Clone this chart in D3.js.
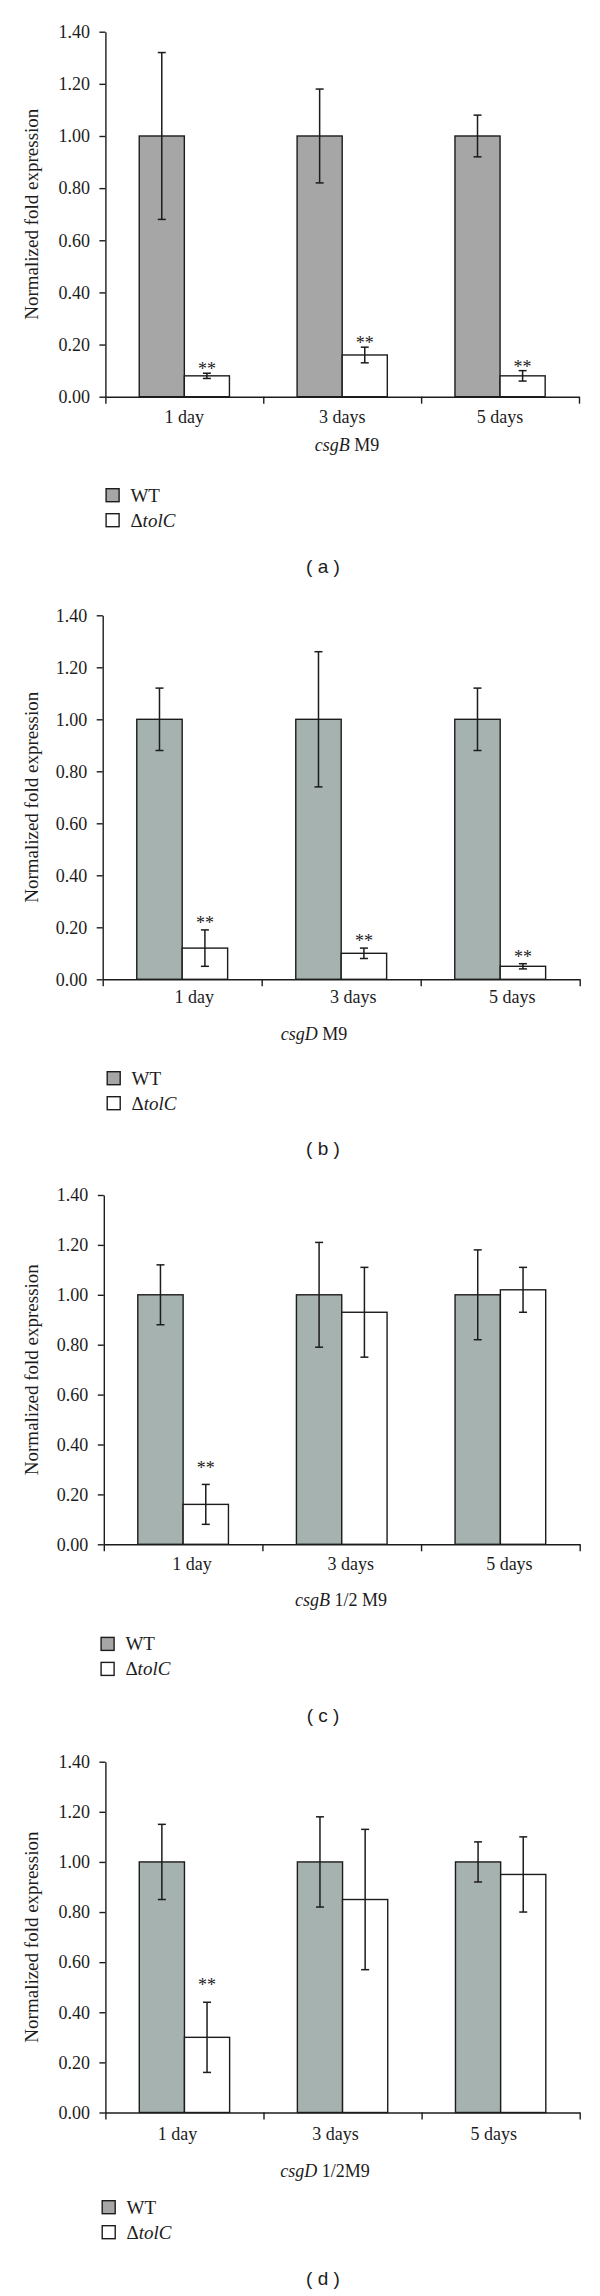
<!DOCTYPE html>
<html>
<head>
<meta charset="utf-8">
<script src="https://cdn.jsdelivr.net/npm/d3@7"></script>
<style>
  html, body { margin: 0; padding: 0; background: #ffffff; }
  svg { display: block; }
</style>
</head>
<body>
<svg id="chart" width="600" height="2296"></svg>
<script>
// ---------------- DATA ----------------
const categories = ["1 day", "3 days", "5 days"];
const seriesNames = ["WT", "\u0394tolC"];
const yTickValues = [0, 0.2, 0.4, 0.6, 0.8, 1.0, 1.2, 1.4];

// Panel (a) csgB M9
const wtA = [1.00, 1.00, 1.00];
const wtErrA = [[0.68, 1.32], [0.82, 1.18], [0.92, 1.08]];
const tolA = [0.08, 0.16, 0.08];
const tolErrA = [[0.07, 0.09], [0.13, 0.19], [0.06, 0.10]];
const sigA = [true, true, true];

// Panel (b) csgD M9
const wtB = [1.00, 1.00, 1.00];
const wtErrB = [[0.88, 1.12], [0.74, 1.26], [0.88, 1.12]];
const tolB = [0.12, 0.10, 0.05];
const tolErrB = [[0.05, 0.19], [0.08, 0.12], [0.04, 0.06]];
const sigB = [true, true, true];

// Panel (c) csgB 1/2 M9
const wtC = [1.00, 1.00, 1.00];
const wtErrC = [[0.88, 1.12], [0.79, 1.21], [0.82, 1.18]];
const tolC = [0.16, 0.93, 1.02];
const tolErrC = [[0.08, 0.24], [0.75, 1.11], [0.93, 1.11]];
const sigC = [true, false, false];

// Panel (d) csgD 1/2M9
const wtD = [1.00, 1.00, 1.00];
const wtErrD = [[0.85, 1.15], [0.82, 1.18], [0.92, 1.08]];
const tolD = [0.30, 0.85, 0.95];
const tolErrD = [[0.16, 0.44], [0.57, 1.13], [0.80, 1.10]];
const sigD = [true, false, false];

const titleGene = ["csgB", "csgD", "csgB", "csgD"];
const titleMedium = [" M9", " M9", " 1/2 M9", " 1/2M9"];
const captions = ["( a )", "( b )", "( c )", "( d )"];
const yTitle = "Normalized fold expression";

// ---------------- STYLE / LAYOUT ----------------
const INK = "#1c1c1c";
const SERIF = "'Liberation Serif', 'Times New Roman', serif";
const SANS = "'Liberation Sans', Arial, sans-serif";
const legendGray = "#a6a6a6";

const panels = [
  { wt: wtA, wtErr: wtErrA, tol: tolA, tolErr: tolErrA, sig: sigA, wtFill: "#a6a6a6",
    left: 105.4, right: 579, top: 31.7, bottom: 396.7, starGap: 7, catDx: 0, catDy: 26,
    titleX: 347, titleDy: 54, legX: 105.4, legY: 488, capY: 573 },
  { wt: wtB, wtErr: wtErrB, tol: tolB, tolErr: tolErrB, sig: sigB, wtFill: "#a5b2af",
    left: 102.7, right: 579.7, top: 615.3, bottom: 979.3, starGap: 10, catDx: 12, catDy: 24,
    titleX: 314, titleDy: 61, legX: 106.5, legY: 1071, capY: 1155 },
  { wt: wtC, wtErr: wtErrC, tol: tolC, tolErr: tolErrC, sig: sigC, wtFill: "#a5b2af",
    left: 103.8, right: 579.7, top: 1195, bottom: 1544.3, starGap: 19, catDx: 9, catDy: 25.5,
    titleX: 341, titleDy: 61.5, legX: 100.4, legY: 1636.7, capY: 1722 },
  { wt: wtD, wtErr: wtErrD, tol: tolD, tolErr: tolErrD, sig: sigD, wtFill: "#a5b2af",
    left: 105.4, right: 579.7, top: 1761.7, bottom: 2112.5, starGap: 20.5, catDx: -7, catDy: 27.5,
    titleX: 325, titleDy: 64.5, legX: 101.5, legY: 2200, capY: 2285 }
];

const svg = d3.select("#chart");
svg.append("rect").attr("width", 600).attr("height", 2296).attr("fill", "#ffffff");

panels.forEach((p, pi) => {
  const g = svg.append("g");

  const y = d3.scaleLinear().domain([0, 1.4]).range([p.bottom, p.top]);
  const x0 = d3.scaleBand().domain(categories).range([p.left, p.right]).paddingInner(0).paddingOuter(0);
  const x1 = d3.scaleBand().domain(seriesNames).range([0, x0.bandwidth()]).paddingInner(0).paddingOuter(0.75);
  const xB = d3.scaleLinear().domain([0, categories.length]).range([p.left, p.right]);

  // bars
  const rows = categories.map((c, i) => ({
    cat: c,
    items: [
      { s: seriesNames[0], v: p.wt[i], e: p.wtErr[i], fill: p.wtFill, sig: false },
      { s: seriesNames[1], v: p.tol[i], e: p.tolErr[i], fill: "#ffffff", sig: p.sig[i] }
    ]
  }));

  const grp = g.selectAll("g.cat").data(rows).join("g")
    .attr("class", "cat")
    .attr("transform", d => `translate(${x0(d.cat)},0)`);

  grp.selectAll("rect").data(d => d.items).join("rect")
    .attr("x", d => x1(d.s))
    .attr("y", d => y(d.v))
    .attr("width", x1.bandwidth())
    .attr("height", d => y(0) - y(d.v))
    .attr("fill", d => d.fill)
    .attr("stroke", INK)
    .attr("stroke-width", 1.4);

  // error bars
  const cap = 4;
  const eb = grp.selectAll("g.eb").data(d => d.items).join("g").attr("class", "eb")
    .attr("transform", d => `translate(${x1(d.s) + x1.bandwidth() / 2},0)`);
  eb.append("line").attr("x1", 0).attr("x2", 0)
    .attr("y1", d => y(d.e[0])).attr("y2", d => y(d.e[1]))
    .attr("stroke", INK).attr("stroke-width", 1.5);
  eb.append("line").attr("x1", -cap).attr("x2", cap)
    .attr("y1", d => y(d.e[1])).attr("y2", d => y(d.e[1]))
    .attr("stroke", INK).attr("stroke-width", 1.5);
  eb.append("line").attr("x1", -cap).attr("x2", cap)
    .attr("y1", d => y(d.e[0])).attr("y2", d => y(d.e[0]))
    .attr("stroke", INK).attr("stroke-width", 1.5);
  eb.filter(d => d.sig).append("text")
    .attr("x", 0)
    .attr("y", d => y(d.e[1]) - p.starGap + 9)
    .attr("text-anchor", "middle")
    .attr("font-family", SERIF).attr("font-size", 18).attr("fill", INK)
    .text("**");

  // y axis
  const yAxis = d3.axisLeft(y).tickValues(yTickValues).tickFormat(d3.format(".2f"))
    .tickSize(6).tickSizeOuter(0).tickPadding(9.5);
  const ya = g.append("g").attr("transform", `translate(${p.left},0)`).call(yAxis);
  ya.select(".domain").attr("stroke", INK).attr("stroke-width", 1.4);
  ya.selectAll(".tick line").attr("stroke", INK).attr("stroke-width", 1.4);
  ya.selectAll(".tick text").attr("font-family", SERIF).attr("font-size", 18).attr("fill", INK);

  // x axis (separators)
  const xAxis = d3.axisBottom(xB).tickValues(d3.range(categories.length + 1)).tickFormat("")
    .tickSize(7).tickSizeOuter(0);
  const xa = g.append("g").attr("transform", `translate(0,${p.bottom})`).call(xAxis);
  xa.select(".domain").attr("stroke", INK).attr("stroke-width", 1.4);
  xa.selectAll(".tick line").attr("stroke", INK).attr("stroke-width", 1.4);

  // category labels
  g.selectAll("text.catlab").data(categories).join("text")
    .attr("class", "catlab")
    .attr("x", d => x0(d) + x0.bandwidth() / 2 + p.catDx)
    .attr("y", p.bottom + p.catDy)
    .attr("text-anchor", "middle")
    .attr("font-family", SERIF).attr("font-size", 18).attr("fill", INK)
    .text(d => d);

  // x title
  const t = g.append("text")
    .attr("x", p.titleX).attr("y", p.bottom + p.titleDy)
    .attr("text-anchor", "middle")
    .attr("font-family", SERIF).attr("font-size", 18).attr("fill", INK);
  t.append("tspan").attr("font-style", "italic").text(titleGene[pi]);
  t.append("tspan").text(titleMedium[pi]);

  // y title
  g.append("text")
    .attr("transform", `translate(31,${(p.top + p.bottom) / 2}) rotate(-90)`)
    .attr("text-anchor", "middle")
    .attr("dy", "0.35em")
    .attr("font-family", SERIF).attr("font-size", 19).attr("fill", INK)
    .text(yTitle);

  // legend
  const leg = g.append("g").attr("transform", `translate(${p.legX},${p.legY})`);
  const legItems = leg.selectAll("g").data(seriesNames).join("g")
    .attr("transform", (d, i) => `translate(0,${i * 25})`);
  legItems.append("rect")
    .attr("x", 0.7).attr("y", 0.7).attr("width", 13).attr("height", 13)
    .attr("fill", (d, i) => i === 0 ? legendGray : "#ffffff")
    .attr("stroke", INK).attr("stroke-width", 1.4);
  legItems.each(function (d, i) {
    const tx = d3.select(this).append("text")
      .attr("x", 25).attr("y", 7).attr("dy", "0.35em")
      .attr("font-family", SERIF).attr("font-size", 19).attr("fill", INK);
    if (i === 0) {
      tx.text(d);
    } else {
      tx.append("tspan").text("\u0394");
      tx.append("tspan").attr("font-style", "italic").text("tolC");
    }
  });

  // caption
  g.append("text")
    .attr("x", 323).attr("y", p.capY)
    .attr("text-anchor", "middle")
    .attr("font-family", SANS).attr("font-size", 19).attr("fill", INK)
    .text(captions[pi]);
});
</script>
</body>
</html>
